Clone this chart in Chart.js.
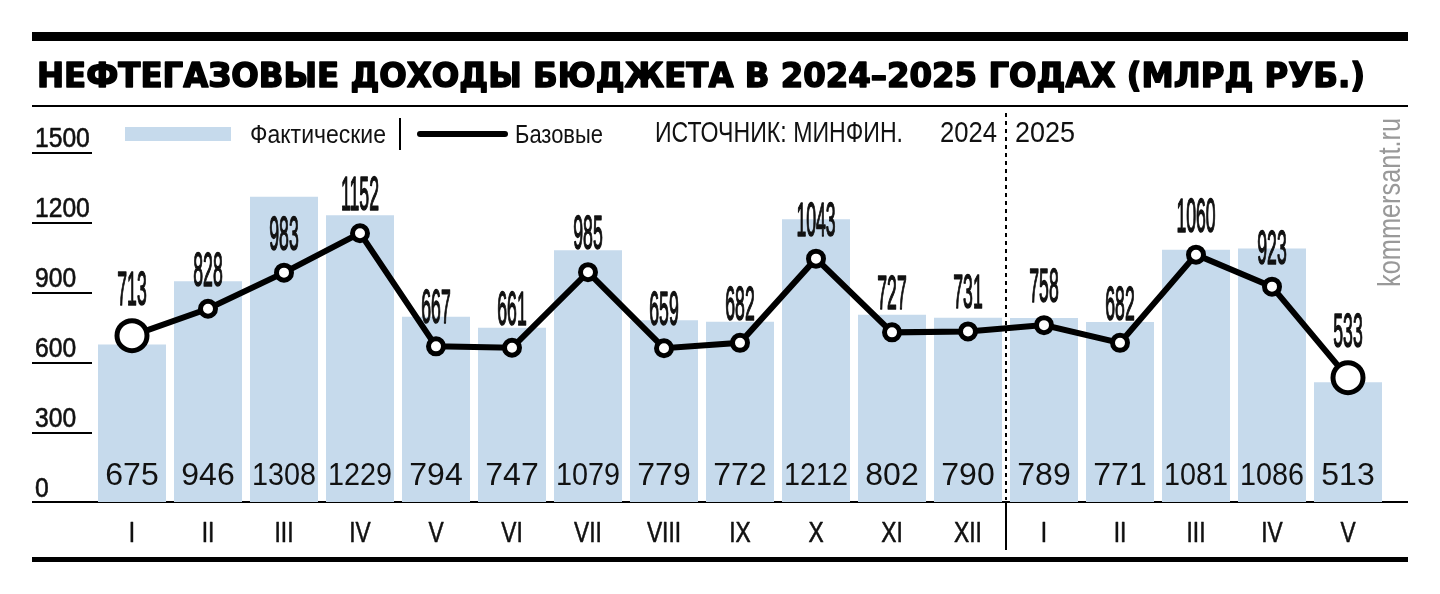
<!DOCTYPE html>
<html lang="ru">
  <head>
    <meta charset="UTF-8" />
    <title>Нефтегазовые доходы бюджета</title>
    <script src="https://cdn.jsdelivr.net/npm/chart.js"></script>
    <style>
      html, body { margin: 0; padding: 0; background: #fff; }
      #wrap { width: 1440px; height: 594px; }
    </style>
  </head>
  <body>
    <div id="wrap"><canvas id="chart" width="1440" height="594"></canvas></div>

    <script>
      // Данные
      const months = ["I", "II", "III", "IV", "V", "VI", "VII", "VIII", "IX", "X", "XI", "XII",
                      "I", "II", "III", "IV", "V"];
      const actual = [675, 946, 1308, 1229, 794, 747, 1079, 779, 772, 1212, 802, 790,
                      789, 771, 1081, 1086, 513];
      const base = [713, 828, 983, 1152, 667, 661, 985, 659, 682, 1043, 727, 731,
                    758, 682, 1060, 923, 533];
      const yTicks = [0, 300, 600, 900, 1200, 1500];

      const BAR = "#c6daec";
      const SANS = "'Liberation Sans', Arial, sans-serif";

      // текст со сжатием по ширине
      function txt(ctx, s, x, y, size, o = {}) {
        ctx.save();
        ctx.font = (o.weight || "normal") + " " + size + "px " + (o.family || SANS);
        let sx = o.sx || 1;
        if (o.w) sx = o.w / ctx.measureText(s).width;
        if (o.maxW) sx = Math.min(1, o.maxW / ctx.measureText(s).width);
        ctx.translate(x, y);
        if (o.rot) ctx.rotate(o.rot);
        ctx.scale(sx, 1);
        ctx.textAlign = o.align || "left";
        ctx.textBaseline = "alphabetic";
        ctx.fillStyle = o.color || "#111";
        ctx.fillText(s, 0, 0);
        if (o.stroke) {
          ctx.strokeStyle = o.color || "#111";
          ctx.lineWidth = o.stroke;
          ctx.lineJoin = "round";
          ctx.strokeText(s, 0, 0);
        }
        ctx.restore();
      }

      const decor = {
        id: "decor",
        beforeDatasetsDraw(chart) {
          const ctx = chart.ctx, y = chart.scales.y, x = chart.scales.x;
          ctx.save();
          ctx.fillStyle = "#000";
          ctx.fillRect(32, 32, 1376, 9);
          ctx.fillRect(32, 105, 1376, 2);
          ctx.fillRect(32, 501, 1376, 2);
          ctx.fillRect(32, 557, 1376, 5);

          // короткие линии сетки и подписи оси
          yTicks.forEach(v => {
            const py = y.getPixelForValue(v);
            if (v > 0) ctx.fillRect(32, py, 60, 2);
            txt(ctx, String(v), 35, py - 5, 28, { sx: 0.88, stroke: 0.6 });
          });

          // разделитель 2024 | 2025
          const div = (x.getPixelForValue(11) + x.getPixelForValue(12)) / 2;
          ctx.fillRect(div - 1, 503, 2, 47);
          ctx.strokeStyle = "#000";
          ctx.lineWidth = 2;
          ctx.setLineDash([4, 4]);
          ctx.beginPath();
          ctx.moveTo(div, 113);
          ctx.lineTo(div, 500);
          ctx.stroke();
          ctx.setLineDash([]);

          // заголовок
          txt(ctx, "НЕФТЕГАЗОВЫЕ ДОХОДЫ БЮДЖЕТА В 2024–2025 ГОДАХ (МЛРД РУБ.)", 37, 87, 34,
              { weight: "bold", family: "'DejaVu Sans', sans-serif", w: 1328, stroke: 1.6, color: "#000" });

          // легенда
          ctx.fillStyle = BAR;
          ctx.fillRect(125, 127, 106, 14);
          txt(ctx, "Фактические", 250, 143, 25, { w: 136 });
          ctx.fillStyle = "#000";
          ctx.fillRect(399, 118, 2, 32);
          ctx.lineWidth = 6;
          ctx.lineCap = "round";
          ctx.beginPath();
          ctx.moveTo(420, 134);
          ctx.lineTo(505, 134);
          ctx.stroke();
          txt(ctx, "Базовые", 515, 143, 25, { w: 88 });
          txt(ctx, "ИСТОЧНИК: МИНФИН.", 655, 142, 30, { w: 248 });
          txt(ctx, "2024", 940, 142, 30, { w: 57 });
          txt(ctx, "2025", 1015, 142, 30, { w: 60 });

          txt(ctx, "kommersant.ru", 1400, 287, 31, { w: 169, rot: -Math.PI / 2, color: "#999" });

          // месяцы
          months.forEach((m, i) => {
            txt(ctx, m, x.getPixelForValue(i), 542, 30, { sx: 0.76, align: "center", stroke: 0.6 });
          });
          ctx.restore();
        },
        afterDatasetsDraw(chart) {
          const ctx = chart.ctx;
          const bars = chart.getDatasetMeta(1).data;
          const pts = chart.getDatasetMeta(0).data;
          bars.forEach((b, i) => {
            txt(ctx, String(actual[i]), b.x, 485, 32, { align: "center", maxW: 64 });
          });
          pts.forEach((p, i) => {
            const r = p.options.radius + p.options.borderWidth / 2;
            txt(ctx, String(base[i]), p.x, p.y - r - 13, 49, { align: "center", sx: 0.36, stroke: 1.6 });
          });
        }
      };

      const radii = base.map((v, i) => (i === 0 || i === base.length - 1) ? 15 : 7.5);

      new Chart(document.getElementById("chart"), {
        data: {
          labels: months,
          datasets: [
            {
              type: "line",
              label: "Базовые",
              data: base,
              borderColor: "#000",
              borderWidth: 6,
              pointRadius: radii,
              pointBackgroundColor: "#fff",
              pointBorderColor: "#000",
              pointBorderWidth: 5,
              tension: 0,
              clip: false,
              order: 0
            },
            {
              type: "bar",
              label: "Фактические",
              data: actual,
              backgroundColor: BAR,
              categoryPercentage: 1,
              barPercentage: 0.895,
              clip: false,
              order: 1
            }
          ]
        },
        options: {
          responsive: false,
          animation: false,
          layout: { padding: { left: 94, right: 54, top: 152, bottom: 92 } },
          plugins: { legend: { display: false }, tooltip: { enabled: false } },
          scales: {
            x: { display: false },
            y: { display: false, min: 0, max: 1500 }
          }
        },
        plugins: [decor]
      });
    </script>
  </body>
</html>
